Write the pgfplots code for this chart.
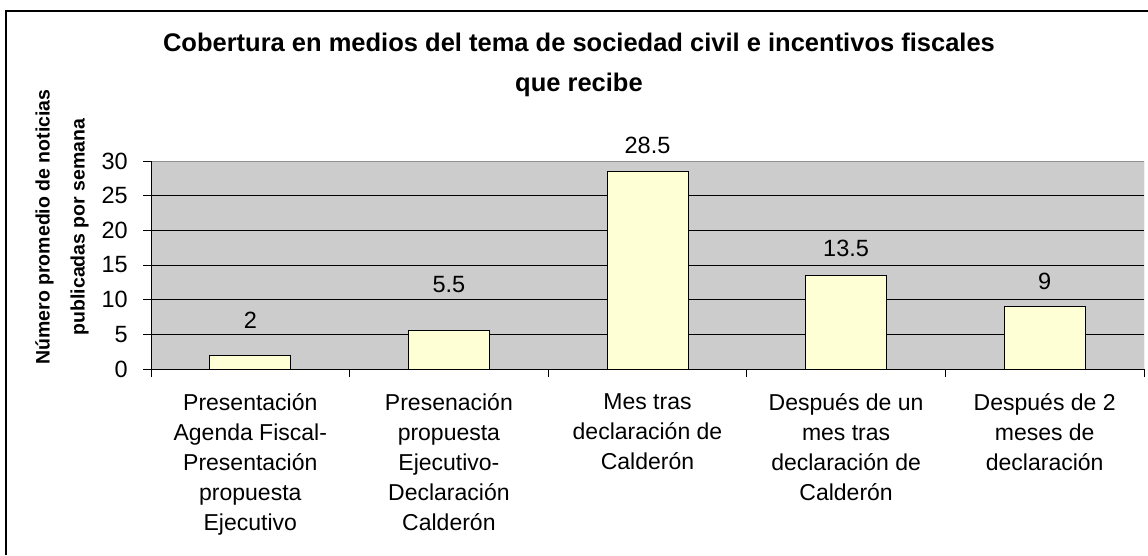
\documentclass[border=0pt]{standalone}
\usepackage{pgfplots}
\usepackage{pgfplotstable}
\pgfplotsset{compat=1.18}
\usepackage{fontspec}
\setmainfont{Liberation Sans}
\definecolor{plotgrey}{HTML}{CCCCCC}
\definecolor{barfill}{HTML}{FFFFD5}
\definecolor{framegrey}{HTML}{909090}

% x = category index, y = value, off = label gap above bar (pt)
\pgfplotstableread{
x y off
0 2 26
1 5.5 38
2 28.5 17
3 13.5 18
4 9 17
}\coverdata

\begin{document}
\begin{tikzpicture}[x=1pt,y=1pt]
\useasboundingbox (0,0) rectangle (1148,555);
\draw[line width=1.5pt] (6,0) -- (6,544) -- (1148,544);
\node[font=\bfseries\fontsize{25.5}{40}\selectfont,align=center] at (579,490)
  {Cobertura en medios del tema de sociedad civil e incentivos fiscales\\que recibe};
\node[font=\bfseries\fontsize{19.5}{35}\selectfont,align=center,rotate=90] at (62,328)
  {Número promedio de noticias\\publicadas por semana};
\begin{axis}[
  at={(151pt,186pt)}, anchor=south west,
  width=993pt, height=208pt, scale only axis,
  xmin=-0.5, xmax=4.5, ymin=0, ymax=30,
  axis background/.style={fill=plotgrey},
  axis line style={draw=none},
  /pgf/number format/assume math mode=true,
  ytick={0,5,...,30}, ytick pos=left,
  ymajorgrids, major grid style={black, line width=0.8pt},
  xtick={-0.5,0.5,...,4.5}, xticklabels={}, xtick pos=bottom,
  tick align=outside, major tick length=8pt,
  tick style={black, line width=0.8pt},
  yticklabel style={font=\fontsize{23.5}{23.5}\selectfont, inner sep=0pt, xshift=-15pt},
  extra x ticks={0,1,2,3,4},
  extra x tick style={major tick length=0pt, grid=none},
  extra x tick labels={{Presentación\\Agenda Fiscal-\\Presentación\\propuesta\\Ejecutivo},
    {Presenación\\propuesta\\Ejecutivo-\\Declaración\\Calderón},
    {Mes tras\\declaración de\\Calderón},
    {Después de un\\mes tras\\declaración de\\Calderón},
    {Después de 2\\meses de\\declaración}},
  xticklabel style={font=\fontsize{23}{30}\selectfont, align=center, anchor=north, inner sep=0pt, yshift=-24pt},
]
\addplot[ybar, bar width=81pt, fill=barfill, draw=black, line width=1pt,
  visualization depends on={\thisrow{off} \as \labeloff},
  nodes near coords,
  nodes near coords style={font=\fontsize{23.5}{23.5}\selectfont, anchor=south, inner sep=0pt, text depth=0pt, yshift=\labeloff pt}]
  table[x=x, y=y] {\coverdata};
\draw[framegrey, line width=1pt] (rel axis cs:0,1) -- (rel axis cs:1,1) -- (rel axis cs:1,0);
\draw[black, line width=1pt] (rel axis cs:0,1) -- (rel axis cs:0,0) -- (rel axis cs:1,0);
\end{axis}
\end{tikzpicture}
\end{document}
